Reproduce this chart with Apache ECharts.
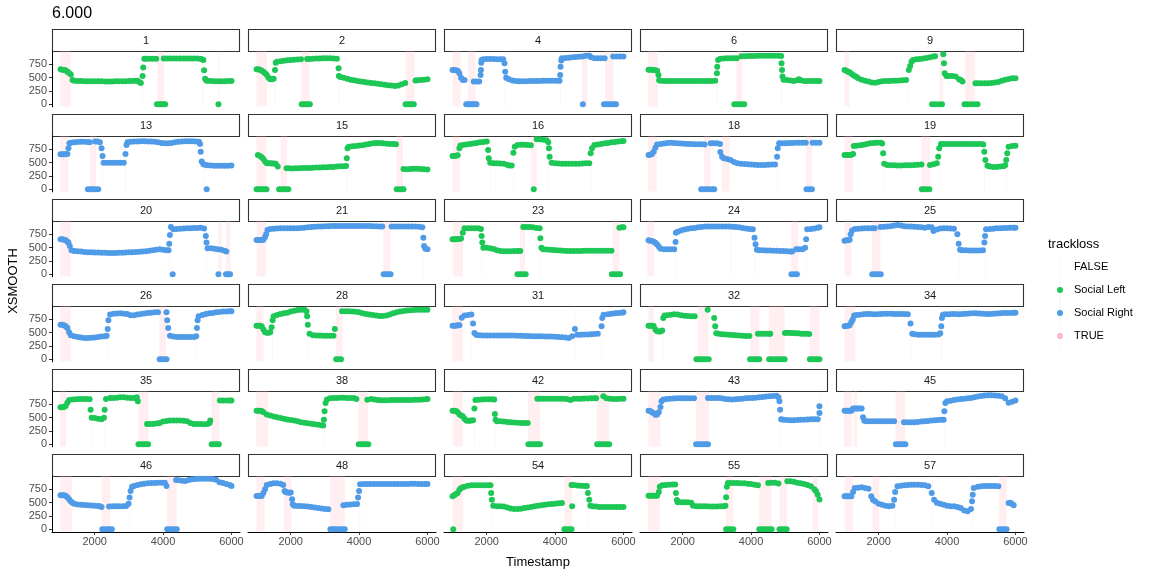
<!DOCTYPE html>
<html><head><meta charset="utf-8">
<script src="https://cdn.jsdelivr.net/npm/echarts@6/dist/echarts.min.js"></script>
<style>html,body{margin:0;padding:0;background:#fff}#c{width:1152px;height:576px}</style>
</head><body><div id="c"></div>
<script>
// ---------------- DATA ----------------
const PANEL_IDS = [1,2,4,6,9,13,15,16,18,19,20,21,23,24,25,26,28,31,32,34,35,38,42,43,45,46,48,54,55,57];
const SIDES = ['L','L','R','L','L','R','L','L','R','L','R','R','L','R','R','R','L','R','L','R','L','L','L','R','R','R','R','L','L','R'];
const X_TICKS = [2000, 4000, 6000];
const Y_TICKS = [0, 250, 500, 750];
const TITLE = '6.000';

// points: flat [Timestamp, XSMOOTH, Timestamp, XSMOOTH, ...]
const pts_1 = [1000,655,1050,650,1100,645,1150,640,1200,612,1250,585,1300,560,1350,455,1400,440,1500,437,1600,435,1700,433,1800,432,1900,432,2000,430,2100,430,2200,430,2300,428,2400,428,2500,428,2600,430,2700,430,2800,432,2900,433,3000,435,3100,437,3200,440,3250,440,3300,420,3350,400,3400,530,3420,690,3450,855,3500,856,3600,856,3700,856,3800,856,3820,0,3900,0,3950,0,4000,0,4060,0,4020,860,4100,860,4200,860,4300,860,4400,860,4500,860,4600,860,4700,860,4800,860,4900,860,5000,858,5100,850,5150,840,5180,830,5200,640,5230,480,5260,445,5300,440,5400,435,5500,430,5600,430,5620,0,5700,430,5800,432,5900,435,6000,437];
const pts_2 = [1000,656,1050,655,1100,650,1150,630,1200,610,1250,580,1300,550,1350,500,1400,470,1450,470,1500,480,1540,644,1560,780,1600,800,1700,805,1800,815,1900,825,2000,830,2100,835,2200,840,2300,845,2320,0,2380,0,2440,0,2500,0,2560,0,2480,850,2550,850,2650,855,2750,858,2850,860,2950,862,3050,862,3150,862,3250,860,3350,855,3400,675,3410,531,3450,510,3550,500,3650,480,3750,460,3850,450,3950,437,4050,425,4150,420,4250,410,4350,400,4450,394,4550,385,4650,375,4750,365,4850,356,4950,350,5050,345,5150,350,5250,375,5350,400,5360,0,5420,0,5480,0,5540,0,5600,0,5650,445,5700,450,5800,455,5900,462,6000,470];
const pts_4 = [1000,644,1050,644,1100,640,1150,630,1200,581,1250,500,1300,456,1350,456,1400,0,1450,0,1500,0,1550,0,1600,0,1650,0,1700,0,1620,425,1700,425,1780,425,1820,550,1830,644,1840,780,1850,831,1900,844,2000,850,2100,850,2200,848,2300,846,2400,844,2480,844,2520,769,2540,612,2570,500,2650,470,2750,445,2850,437,2950,432,3050,432,3150,434,3250,435,3350,436,3450,437,3550,438,3650,440,3750,440,3850,440,3950,440,4050,440,4130,440,4150,550,4160,706,4180,819,4200,862,4300,868,4400,875,4500,880,4600,885,4700,890,4800,894,4812,0,4900,910,5000,912,5050,880,5150,862,5250,862,5350,862,5450,862,5430,0,5500,0,5580,0,5650,0,5720,0,5780,0,5700,894,5800,894,5900,894,6000,894];
const pts_6 = [1000,650,1050,650,1100,648,1150,645,1200,640,1250,630,1290,550,1310,450,1350,440,1450,437,1550,437,1650,437,1750,437,1850,437,1950,437,2050,437,2150,437,2250,437,2350,437,2450,437,2550,437,2650,437,2750,437,2850,437,2950,440,3000,581,3010,706,3035,831,3100,856,3200,860,3300,862,3400,862,3500,865,3580,865,3510,0,3580,0,3650,0,3720,0,3800,0,3720,900,3800,902,3900,904,4000,906,4100,906,4200,908,4300,908,4400,910,4500,910,4600,912,4700,912,4800,910,4880,905,4890,769,4905,644,4920,519,4950,460,5050,456,5150,445,5250,437,5350,450,5400,469,5450,450,5550,437,5650,437,5750,437,5850,437,5950,435,6000,435];
const pts_9 = [1000,644,1050,630,1100,612,1150,600,1200,575,1250,550,1300,530,1350,510,1400,487,1500,460,1600,440,1700,425,1800,410,1900,406,2000,420,2100,430,2200,437,2300,437,2400,440,2500,440,2600,445,2700,450,2800,456,2880,644,2920,720,2960,800,3000,830,3100,844,3200,850,3300,860,3400,870,3500,881,3600,894,3650,900,3560,0,3650,0,3750,0,3850,0,3890,937,3910,769,3930,581,3980,531,4050,531,4150,531,4250,520,4350,470,4400,456,4450,425,4510,0,4600,0,4700,0,4800,0,4890,0,4830,394,4900,394,5000,394,5100,394,5200,394,5300,400,5400,410,5500,420,5600,440,5700,460,5800,475,5900,487,6000,490];
const pts_13 = [1000,656,1050,656,1100,656,1150,656,1200,660,1230,769,1260,862,1300,875,1400,880,1500,885,1600,890,1700,890,1800,885,1850,880,1800,0,1870,0,1940,0,2010,0,2100,0,2010,894,2080,894,2150,880,2200,769,2230,625,2260,500,2350,500,2450,500,2550,500,2650,500,2750,500,2850,500,2900,662,2930,831,2960,880,3050,890,3150,894,3250,897,3350,900,3450,900,3550,897,3650,894,3750,890,3850,880,3950,870,4050,862,4150,862,4250,870,4350,880,4450,890,4550,897,4650,900,4750,900,4850,900,4950,897,5050,890,5080,850,5100,706,5130,519,5180,470,5230,460,5275,0,5300,450,5400,445,5500,440,5600,440,5700,440,5800,440,5900,440,6000,444];
const pts_15 = [1000,0,1060,0,1120,0,1180,0,1240,0,1290,0,1040,644,1100,625,1150,600,1200,570,1250,520,1300,490,1350,487,1400,487,1450,485,1500,484,1560,480,1620,425,1660,0,1720,0,1790,0,1860,0,1930,0,1880,394,1950,394,2050,390,2150,394,2250,394,2350,397,2450,400,2550,400,2650,405,2750,410,2850,410,2950,412,3050,415,3150,418,3250,420,3350,425,3450,430,3550,431,3620,437,3640,581,3660,769,3700,800,3800,806,3900,812,4000,819,4100,825,4200,840,4300,850,4400,862,4500,866,4600,866,4700,862,4800,856,4900,850,5000,850,5080,845,5100,0,5170,0,5240,0,5300,0,5300,380,5400,375,5500,380,5600,385,5700,385,5800,380,5900,375,6000,370];
const pts_16 = [1000,625,1050,625,1100,630,1150,640,1200,769,1230,820,1300,831,1400,840,1500,850,1600,860,1700,870,1800,880,1900,887,2000,894,2040,737,2060,581,2100,500,2200,490,2300,487,2400,485,2500,480,2600,460,2650,444,2730,444,2780,687,2820,800,2900,831,3000,835,3100,835,3200,831,3290,825,3375,0,3460,937,3550,937,3650,930,3750,920,3800,880,3820,769,3840,612,3900,500,4000,487,4100,484,4200,481,4300,481,4400,481,4500,481,4600,481,4700,481,4800,484,4900,487,5000,487,5040,675,5080,769,5150,831,5250,840,5350,850,5450,862,5550,870,5650,880,5750,887,5850,894,5950,900,6000,905];
const pts_18 = [1000,644,1050,650,1100,660,1150,706,1200,780,1250,840,1350,850,1450,860,1550,870,1650,875,1750,870,1850,865,1950,860,2050,856,2150,850,2250,850,2350,845,2450,844,2550,844,2640,840,2540,0,2620,0,2700,0,2780,0,2860,0,2920,0,2820,862,2900,862,3000,862,3090,850,3100,700,3150,612,3200,581,3300,570,3400,550,3500,510,3600,487,3700,481,3800,475,3900,470,4000,465,4100,460,4200,456,4300,456,4400,456,4500,460,4600,465,4700,465,4760,612,4780,769,4820,862,4900,862,5000,865,5100,868,5200,870,5300,872,5400,875,5500,875,5600,875,5620,0,5700,0,5780,0,5800,875,5900,875,6000,875];
const pts_19 = [1000,644,1050,644,1100,644,1150,644,1200,650,1250,660,1270,812,1350,815,1450,825,1550,835,1650,850,1750,862,1850,870,1950,875,2050,875,2100,860,2130,675,2160,480,2250,456,2350,450,2450,450,2550,447,2650,447,2750,450,2850,450,2950,453,3050,456,3150,460,3250,465,3260,0,3330,0,3400,0,3480,0,3500,456,3600,470,3700,487,3740,612,3770,769,3820,850,3900,850,4000,850,4100,850,4200,850,4300,850,4400,850,4500,850,4600,850,4700,850,4800,850,4900,850,5000,850,5060,840,5090,706,5120,550,5180,440,5250,425,5350,420,5450,420,5550,425,5650,430,5700,450,5730,550,5760,675,5800,800,5900,812,6000,815];
const pts_20 = [1000,656,1050,656,1100,650,1150,640,1200,610,1230,594,1270,531,1320,450,1400,437,1500,430,1600,425,1700,419,1800,415,1900,412,2000,410,2100,408,2200,405,2300,402,2400,400,2500,400,2600,400,2700,402,2800,405,2900,408,3000,412,3100,415,3200,419,3300,422,3400,425,3500,430,3600,440,3700,450,3800,460,3900,469,4000,460,4100,450,4160,450,4180,575,4200,737,4230,887,4280,0,4300,844,4400,850,4500,856,4600,860,4700,862,4800,865,4900,868,5000,870,5100,875,5200,860,5250,719,5270,594,5300,487,5400,487,5500,480,5600,470,5620,0,5700,460,5800,440,5850,425,5840,0,5900,0,5960,0];
const pts_21 = [1000,644,1050,644,1100,644,1150,644,1200,650,1250,700,1280,750,1320,831,1400,850,1500,856,1600,860,1700,862,1800,862,1900,862,2000,862,2100,862,2200,865,2300,870,2400,875,2500,880,2600,885,2700,890,2800,894,2900,897,3000,900,3100,903,3200,906,3300,906,3400,906,3500,906,3600,906,3700,906,3800,906,3900,906,4000,906,4100,906,4200,906,4300,906,4400,903,4500,900,4600,897,4680,895,4720,0,4790,0,4860,0,4920,0,4950,894,5050,894,5150,894,5250,894,5350,894,5450,894,5550,894,5650,894,5750,890,5850,880,5880,687,5900,531,5940,480,6000,469];
const pts_23 = [1000,656,1050,656,1100,656,1150,660,1200,660,1250,670,1300,781,1350,862,1450,862,1550,862,1650,862,1750,862,1830,850,1850,719,1870,594,1900,500,2000,500,2100,490,2200,475,2300,450,2400,437,2500,430,2600,430,2700,433,2800,435,2900,437,2980,437,2900,0,2980,0,3060,0,3140,0,3070,887,3150,887,3250,887,3350,880,3450,870,3550,862,3570,675,3600,500,3650,469,3750,465,3850,460,3950,455,4050,450,4150,445,4250,440,4350,437,4450,437,4550,437,4650,437,4750,437,4850,440,4950,440,5050,440,5150,440,5250,440,5350,440,5450,440,5550,440,5650,440,5660,0,5740,0,5820,0,5900,0,5880,875,5950,880,6000,880];
const pts_24 = [1000,637,1050,630,1100,625,1150,612,1200,590,1250,560,1300,520,1350,480,1450,469,1550,469,1650,469,1750,469,1790,606,1800,780,1850,800,1950,820,2050,840,2150,855,2250,862,2350,870,2450,880,2550,887,2650,894,2750,894,2850,894,2950,894,3050,894,3150,894,3250,894,3350,894,3450,890,3550,887,3650,880,3750,870,3850,860,3950,850,4050,844,4100,687,4130,562,4170,460,4250,450,4350,450,4450,445,4550,445,4650,440,4750,440,4850,437,4950,435,5050,430,5150,425,5200,425,5180,0,5260,0,5340,0,5320,469,5400,469,5500,469,5580,500,5610,656,5640,844,5750,850,5850,860,5950,875,6000,880];
const pts_25 = [1000,630,1050,637,1100,640,1150,650,1180,750,1220,820,1300,850,1400,856,1500,860,1600,862,1700,862,1800,862,1880,862,1810,0,1900,0,1980,0,2060,0,2050,887,2150,890,2250,894,2350,900,2450,915,2550,925,2650,915,2750,900,2850,894,2950,894,3050,890,3150,887,3250,880,3350,875,3450,887,3550,880,3600,812,3700,840,3800,860,3900,862,4000,862,4100,860,4200,856,4300,750,4340,575,4380,460,4450,450,4550,450,4650,445,4750,445,4850,445,4950,445,5050,450,5090,594,5110,719,5140,844,5250,850,5350,856,5450,862,5550,862,5650,866,5750,870,5850,875,5950,875,6000,875];
const pts_26 = [1000,650,1050,650,1100,640,1150,620,1200,587,1250,506,1300,450,1400,431,1500,420,1600,410,1700,400,1800,400,1900,405,2000,410,2100,420,2200,425,2300,431,2350,440,2380,569,2400,731,2450,840,2550,856,2650,860,2750,862,2850,856,2950,850,3050,825,3150,825,3250,840,3350,850,3450,860,3550,870,3650,875,3750,880,3850,881,3900,0,3960,0,4030,0,4100,0,4100,881,4120,731,4150,587,4200,440,4300,425,4400,419,4500,419,4600,419,4700,419,4800,419,4900,419,4970,430,4990,587,5010,731,5040,806,5150,830,5250,850,5350,862,5450,870,5550,881,5650,887,5750,894,5850,897,5950,900,6000,900];
const pts_28 = [1000,631,1050,631,1100,631,1150,620,1200,560,1250,506,1300,500,1350,500,1400,506,1440,600,1470,731,1500,806,1600,830,1700,850,1800,862,1900,875,2000,894,2100,910,2200,925,2300,931,2400,931,2460,900,2480,806,2500,650,2550,480,2650,450,2750,444,2850,444,2950,440,3050,440,3150,440,3250,440,3290,569,3330,0,3400,0,3470,0,3500,900,3600,900,3700,900,3800,895,3900,890,4000,880,4100,862,4200,850,4300,840,4400,830,4500,820,4600,812,4700,812,4800,820,4900,840,5000,862,5100,880,5200,894,5300,906,5400,915,5500,920,5600,925,5700,928,5800,931,5900,931,6000,931];
const pts_31 = [1000,631,1050,631,1100,631,1150,640,1200,640,1270,780,1350,819,1450,830,1550,840,1600,669,1640,494,1700,456,1800,450,1900,447,2000,444,2100,444,2200,444,2300,444,2400,444,2500,444,2600,444,2700,444,2800,444,2900,440,3000,440,3100,437,3200,437,3300,434,3400,431,3500,431,3600,431,3700,428,3800,425,3900,425,4000,422,4100,420,4200,415,4300,410,4400,400,4500,430,4580,569,4650,462,4750,462,4850,465,4950,466,5050,470,5150,475,5250,480,5360,619,5380,775,5420,837,5550,845,5650,855,5750,862,5850,870,5950,875,6000,881];
const pts_32 = [1000,631,1050,631,1100,631,1150,625,1200,560,1250,525,1300,520,1350,520,1400,540,1430,775,1470,819,1550,825,1650,837,1750,845,1850,840,1950,825,2050,815,2150,810,2250,806,2350,806,2400,0,2470,0,2540,0,2610,0,2680,0,2760,0,2730,931,2920,775,2950,619,2980,490,3050,481,3150,470,3250,465,3350,460,3450,455,3550,450,3650,445,3750,440,3850,437,3950,437,3970,0,4040,0,4110,0,4180,0,4240,0,4200,481,4280,481,4360,481,4440,481,4520,481,4560,481,4530,0,4600,0,4680,0,4760,0,4840,0,4920,0,4980,0,4990,494,5060,500,5140,494,5220,494,5300,490,5380,487,5460,481,5540,481,5620,481,5700,475,5720,0,5790,0,5860,0,5930,0,6000,0];
const pts_34 = [1000,619,1050,625,1100,630,1150,640,1200,700,1240,744,1280,819,1350,830,1450,837,1550,845,1650,850,1750,850,1850,845,1950,845,2050,850,2150,856,2250,856,2350,856,2450,850,2550,850,2650,850,2750,850,2850,845,2930,669,2980,480,3050,470,3150,462,3250,460,3350,460,3450,460,3550,462,3650,462,3750,465,3800,490,3830,619,3850,775,3880,837,3950,845,4050,845,4150,850,4250,850,4350,845,4450,850,4550,856,4650,860,4750,862,4850,862,4950,860,5050,856,5150,850,5250,850,5350,856,5450,860,5550,862,5650,866,5750,870,5850,870,5950,875,6000,875];
const pts_35 = [1000,694,1050,694,1100,700,1150,720,1200,780,1250,830,1350,840,1450,845,1550,850,1650,850,1750,850,1850,845,1880,650,1910,500,2000,494,2100,481,2200,470,2270,500,2290,650,2330,850,2450,869,2550,869,2650,875,2750,880,2850,880,2950,875,3050,870,3150,869,3230,880,3260,806,3280,0,3350,0,3420,0,3490,0,3560,0,3530,381,3600,381,3700,381,3800,390,3900,400,4000,425,4100,437,4200,444,4300,444,4400,444,4500,444,4600,440,4700,431,4800,400,4900,381,5000,381,5100,381,5200,378,5300,381,5360,400,5380,444,5420,0,5490,0,5560,0,5630,0,5660,819,5750,819,5850,819,5950,819,6000,819];
const pts_38 = [1000,631,1050,631,1100,631,1150,625,1200,600,1300,560,1400,540,1500,520,1600,505,1700,494,1800,480,1900,465,2000,455,2100,444,2200,430,2300,415,2400,405,2500,394,2600,385,2700,375,2800,365,2900,356,2950,350,2970,462,2990,619,3020,775,3060,840,3150,862,3250,869,3350,869,3450,875,3550,875,3650,869,3750,869,3850,869,3920,850,3990,0,4060,0,4130,0,4200,0,4270,0,4240,837,4350,850,4450,840,4550,830,4650,825,4750,825,4850,825,4950,830,5050,830,5150,830,5250,830,5350,830,5450,830,5550,830,5650,835,5750,837,5850,840,5950,845,6000,850];
const pts_42 = [1000,631,1050,631,1100,625,1150,600,1200,560,1250,540,1300,525,1350,480,1400,444,1450,440,1500,440,1550,444,1600,450,1640,669,1670,830,1750,837,1850,840,1950,845,2050,845,2150,845,2220,840,2240,569,2260,462,2300,431,2400,430,2500,425,2600,420,2700,415,2800,410,2900,405,3000,400,3100,400,3200,400,3220,0,3290,0,3360,0,3430,0,3500,0,3560,0,3480,856,3560,856,3650,856,3750,856,3850,856,3950,856,4050,856,4150,856,4250,856,4350,850,4450,830,4550,856,4650,856,4750,856,4850,860,4950,860,5050,862,5150,862,5200,862,5230,0,5300,0,5370,0,5440,0,5510,0,5580,0,5410,900,5500,862,5600,856,5700,850,5800,850,5900,856,6000,856];
const pts_43 = [1000,631,1050,625,1100,600,1150,580,1200,556,1250,560,1300,600,1350,700,1380,806,1430,840,1530,850,1630,856,1730,860,1830,862,1930,862,2030,862,2130,862,2230,862,2330,862,2390,0,2460,0,2530,0,2600,0,2670,0,2740,0,2740,869,2840,869,2940,869,3040,866,3140,862,3240,850,3340,845,3440,840,3540,845,3640,850,3740,856,3840,862,3940,866,4040,869,4140,875,4240,880,4340,887,4440,894,4540,900,4640,906,4740,912,4800,880,4830,806,4850,650,4880,470,4950,462,5050,455,5150,450,5250,450,5350,455,5450,460,5550,462,5650,465,5750,470,5850,470,5950,470,6000,587,6000,712];
const pts_45 = [1000,631,1050,631,1100,631,1150,631,1200,631,1250,669,1300,669,1350,669,1400,669,1450,669,1500,669,1540,506,1580,440,1650,431,1750,431,1850,431,1950,431,2050,431,2150,431,2250,431,2350,431,2450,431,2500,0,2570,0,2640,0,2710,0,2780,0,2740,412,2840,412,2940,412,3040,415,3140,420,3240,425,3340,431,3440,437,3540,444,3640,450,3740,456,3840,462,3900,462,3920,619,3950,775,4000,806,4100,815,4200,830,4300,840,4400,850,4500,856,4600,862,4700,870,4800,880,4900,894,5000,906,5100,915,5200,919,5300,919,5400,915,5500,910,5600,900,5700,862,5800,780,5900,800,6000,819];
const pts_46 = [1000,637,1050,637,1100,637,1150,630,1200,600,1250,562,1300,520,1350,500,1400,480,1500,465,1600,460,1700,455,1800,450,1900,445,2000,440,2100,437,2150,430,2200,419,2220,0,2290,0,2360,0,2430,0,2500,0,2420,425,2520,430,2620,430,2720,430,2820,430,2920,437,2990,480,3020,594,3050,719,3090,800,3150,812,3250,830,3350,845,3450,856,3550,862,3650,866,3750,869,3850,872,3950,875,4050,875,4100,812,4120,0,4190,0,4260,0,4330,0,4400,0,4380,925,4450,919,4550,912,4650,906,4750,925,4850,937,4950,944,5050,950,5150,950,5250,950,5350,950,5450,944,5550,930,5650,880,5750,869,5850,850,5950,830,6000,810];
const pts_48 = [1000,625,1050,625,1100,625,1150,625,1200,680,1250,750,1300,830,1400,850,1500,862,1600,862,1700,855,1780,830,1820,719,1850,700,1900,690,1950,687,2000,690,2040,562,2060,469,2100,440,2200,437,2300,437,2400,430,2500,425,2600,420,2700,410,2800,400,2900,390,3000,380,3100,375,3160,0,3230,0,3300,0,3370,0,3440,0,3510,0,3580,0,3540,450,3640,460,3740,465,3840,469,3940,475,3970,594,4000,719,4030,844,4130,850,4230,850,4330,850,4430,850,4530,850,4630,850,4730,850,4830,850,4930,850,5030,850,5130,850,5230,850,5330,850,5430,850,5530,856,5630,856,5730,850,5830,850,5930,850,6000,850];
const pts_54 = [1020,0,1000,619,1050,640,1100,660,1150,681,1200,740,1250,775,1300,790,1350,800,1450,815,1550,825,1650,825,1750,825,1850,825,1950,825,2050,825,2110,825,2130,681,2150,556,2190,440,2300,431,2400,431,2500,425,2600,410,2700,390,2800,381,2900,381,3000,385,3100,400,3200,410,3300,420,3400,430,3500,440,3600,450,3700,460,3800,470,3900,475,4000,481,4100,487,4200,494,4270,0,4340,0,4410,0,4480,0,4500,431,4480,830,4550,830,4650,820,4750,815,4850,812,4930,812,4960,681,5000,556,5030,440,5100,431,5200,425,5300,419,5400,419,5500,419,5600,419,5700,419,5800,419,5900,419,6000,419];
const pts_55 = [1000,631,1050,631,1100,631,1150,631,1200,631,1250,631,1300,700,1330,800,1400,825,1500,830,1600,837,1700,840,1780,840,1800,681,1830,550,1850,506,1950,506,2050,506,2150,506,2250,500,2300,440,2400,431,2500,431,2600,431,2700,431,2800,425,2900,425,3000,425,3100,431,3200,431,3250,440,3270,600,3290,800,3320,869,3270,0,3340,0,3410,0,3480,0,3400,869,3500,869,3600,866,3700,862,3800,862,3900,856,4000,850,4100,837,4200,825,4240,0,4310,0,4380,0,4450,0,4520,0,4600,0,4500,869,4600,875,4700,875,4800,860,4830,0,4900,0,4970,0,5040,0,5060,900,5150,900,5250,890,5350,875,5450,862,5550,850,5650,830,5750,806,5850,750,5900,712,5950,650,6000,560];
const pts_57 = [1000,619,1050,619,1100,619,1150,619,1200,619,1250,700,1300,775,1400,780,1500,790,1600,775,1700,760,1780,619,1830,556,1900,520,2000,480,2100,460,2200,440,2300,431,2400,440,2450,556,2480,700,2550,806,2650,815,2750,825,2850,830,2950,837,3050,837,3150,837,3250,830,3350,825,3450,806,3550,681,3620,556,3700,500,3800,480,3900,460,4000,440,4100,431,4200,431,4300,420,4400,400,4500,350,4600,337,4700,380,4730,525,4750,650,4780,775,4900,800,5000,806,5100,812,5200,812,5300,812,5400,812,5500,806,5530,0,5600,0,5670,0,5740,0,5800,494,5850,500,5900,475,5950,450];

// trackloss (TRUE) spans: flat [start, end, start, end, ...]
const band_1 = [990,1300,3830,4030,3390,3410,5140,5160,5610,5630];
const band_2 = [995,1305,2310,2550,5365,5625,1530,1550,3400,3420];
const band_4 = [1000,1245,1445,1670,4790,4945,5460,5710,2520,2540,4140,4160];
const band_6 = [990,1275,3570,3740,2990,3010,4880,4900];
const band_9 = [1000,1140,3780,3890,4530,4820,2850,2870];
const band_13 = [985,1230,1860,2040,2200,2220,2890,2910,5180,5200];
const band_15 = [995,1285,1705,1890,5090,5285,3630,3650];
const band_16 = [1000,1210,3300,3465,2100,2120,2770,2790,3800,3820,5040,5060];
const band_18 = [990,1240,2620,2810,3150,3370,5610,5780,4760,4780];
const band_19 = [1000,1255,3250,3500,2130,2150,3780,3800,5080,5100,5720,5740];
const band_20 = [990,1300,5615,5710,5840,5975,4190,4210,5250,5270];
const band_21 = [1000,1280,4705,4920,5860,5880];
const band_23 = [1010,1305,2975,3120,5685,5880,1840,1860,3550,3570];
const band_24 = [965,1160,5175,5370,1780,1800,3400,3420,4100,4120,5600,5620];
const band_25 = [1005,1200,1805,2050,4330,4350,5110,5130];
const band_26 = [990,1300,3890,4085,2370,2390,4970,4990];
const band_28 = [990,1200,3320,3515,1450,1470,2480,2500];
const band_31 = [990,1300,1520,1540,4580,4600,5360,5380];
const band_32 = [995,1160,2435,2755,3980,4245,4520,4980,5715,6000,1420,1440,2940,2960];
const band_34 = [1005,1315,2930,2950,3830,3850];
const band_35 = [990,1160,3275,3570,5420,5645,1890,1910,2290,2310];
const band_38 = [990,1340,3975,4265,2980,3000];
const band_42 = [1010,1300,3210,3560,5220,5580,1630,1650,2250,2270];
const band_43 = [995,1355,2385,2775,4840,4860,5985,6000];
const band_45 = [975,1220,1270,1370,2490,2780,3920,3940];
const band_46 = [990,1330,2205,2450,4110,4400,3020,3040];
const band_48 = [1000,1240,1795,2020,3145,3585,4010,4030];
const band_54 = [1000,1310,4275,4495,2130,2150,4950,4970];
const band_55 = [985,1330,3260,3480,4235,4600,4830,5050,5800,5960];
const band_57 = [1010,1255,1815,2015,5520,5745,2450,2470,3560,3580,4730,4750];

// ---------------- BUILD ----------------
const PTS = {1:pts_1,2:pts_2,4:pts_4,6:pts_6,9:pts_9,13:pts_13,15:pts_15,16:pts_16,18:pts_18,19:pts_19,20:pts_20,21:pts_21,23:pts_23,24:pts_24,25:pts_25,26:pts_26,28:pts_28,31:pts_31,32:pts_32,34:pts_34,35:pts_35,38:pts_38,42:pts_42,43:pts_43,45:pts_45,46:pts_46,48:pts_48,54:pts_54,55:pts_55,57:pts_57};
const BANDS = {1:band_1,2:band_2,4:band_4,6:band_6,9:band_9,13:band_13,15:band_15,16:band_16,18:band_18,19:band_19,20:band_20,21:band_21,23:band_23,24:band_24,25:band_25,26:band_26,28:band_28,31:band_31,32:band_32,34:band_34,35:band_35,38:band_38,42:band_42,43:band_43,45:band_45,46:band_46,48:band_48,54:band_54,55:band_55,57:band_57};
function pairs(a){const o=[];for(let i=0;i+1<a.length;i+=2)o.push([a[i],a[i+1]]);return o;}

const FONT = '"Liberation Sans", Arial, Helvetica, sans-serif';
const GREEN = '#1dc756', BLUE = '#4f9be8', PINK = '#ffb6c1';
const COL_LEFT = [52,248,444,640,836], PW = 188;
const ROW0 = 50.8, RSTEP = 85, PH = 56.05;
const X_MIN = 750, X_MAX = 6250, Y_MIN = -48, Y_MAX = 1003;

const grids=[], xAxes=[], yAxes=[], series=[], graphics=[];
PANEL_IDS.forEach((id, i) => {
  const r = Math.floor(i/5), c = i%5;
  const left = COL_LEFT[c], top = ROW0 + RSTEP*r;
  grids.push({left:left, top:top, width:PW, height:PH});
  const bottom = (r===5), first = (c===0);
  xAxes.push({type:'value', gridIndex:i, min:X_MIN, max:X_MAX,
    axisLine:{show:bottom, onZero:false, lineStyle:{color:'#000', width:1}},
    axisTick:{show:bottom, customValues:X_TICKS, length:3, lineStyle:{color:'#333', width:1}},
    axisLabel:{show:bottom, customValues:X_TICKS, color:'#4d4d4d', fontSize:11, fontFamily:FONT, margin:5,
      formatter:function(v){return String(v);}},
    splitLine:{show:false}});
  yAxes.push({type:'value', gridIndex:i, min:Y_MIN, max:Y_MAX,
    axisLine:{show:first, onZero:false, lineStyle:{color:'#000', width:1}},
    axisTick:{show:first, customValues:Y_TICKS, length:3, lineStyle:{color:'#333', width:1}},
    axisLabel:{show:first, customValues:Y_TICKS, color:'#4d4d4d', fontSize:11, fontFamily:FONT, margin:5,
      formatter:function(v){return String(v);}},
    splitLine:{show:false}});
  series.push({type:'custom', name:'TRUE', xAxisIndex:i, yAxisIndex:i, silent:true, z:1,
    data: pairs(BANDS[id]), encode:{x:[0,1]}, clip:true,
    renderItem:function(params, api){
      const cs = params.coordSys;
      const x0 = api.coord([api.value(0), 0])[0];
      const x1 = api.coord([api.value(1), 0])[0];
      const w = Math.max(1, x1 - x0);
      return {type:'rect', shape:{x:x0, y:cs.y, width:w, height:cs.height},
        style:{fill: (x1-x0) < 2 ? 'rgba(255,182,193,0.14)' : 'rgba(255,182,193,0.22)'}};
    }});
  const side = SIDES[i];
  series.push({type:'scatter', name: side==='L' ? 'Social Left' : 'Social Right',
    xAxisIndex:i, yAxisIndex:i, silent:true, z:3, symbolSize:6,
    itemStyle:{color: side==='L' ? GREEN : BLUE, opacity:1},
    data: pairs(PTS[id])});
  // facet strip
  const sTop = 29.5 + RSTEP*r;
  graphics.push({type:'rect', silent:true, shape:{x:left+0.5, y:sTop, width:PW-1, height:22},
    style:{fill:'#fff', stroke:'#333', lineWidth:1.1}});
  graphics.push({type:'text', silent:true, x:left+PW/2, y:sTop+11,
    style:{text:String(id), fill:'#1a1a1a', font:'11px '+FONT, textAlign:'center', textVerticalAlign:'middle', align:'center', verticalAlign:'middle'}});
});

// titles
graphics.push({type:'text', silent:true, x:52, y:14, style:{text:TITLE, fill:'#000', font:'16px '+FONT, textAlign:'left', textVerticalAlign:'middle', align:'left', verticalAlign:'middle'}});
graphics.push({type:'text', silent:true, x:538, y:562, style:{text:'Timestamp', fill:'#000', font:'13px '+FONT, textAlign:'center', textVerticalAlign:'middle', align:'center', verticalAlign:'middle'}});
graphics.push({type:'text', silent:true, x:13, y:281, rotation:Math.PI/2, style:{text:'XSMOOTH', fill:'#000', font:'13px '+FONT, textAlign:'center', textVerticalAlign:'middle', align:'center', verticalAlign:'middle'}});

// legend
const LEG = [['FALSE', null, 'rgba(220,240,230,0.35)'], ['Social Left', GREEN, 'rgba(29,199,86,0.10)'], ['Social Right', BLUE, 'rgba(79,155,232,0.10)'], ['TRUE', PINK, 'rgba(255,182,193,0.18)']];
graphics.push({type:'text', silent:true, x:1048, y:244, style:{text:'trackloss', fill:'#000', font:'13px '+FONT, textAlign:'left', textVerticalAlign:'middle', align:'left', verticalAlign:'middle'}});
LEG.forEach((it, k) => {
  const cy = 267 + 23*k;
  graphics.push({type:'line', silent:true, shape:{x1:1060, y1:cy-11, x2:1060, y2:cy+11}, style:{stroke:it[2], lineWidth:1}});
  if (it[1]) graphics.push({type:'circle', silent:true, shape:{cx:1060, cy:cy, r:3}, style:{fill:it[1]}});
  graphics.push({type:'text', silent:true, x:1074, y:cy, style:{text:it[0], fill:'#000', font:'11px '+FONT, textAlign:'left', textVerticalAlign:'middle', align:'left', verticalAlign:'middle'}});
});

const chart = echarts.init(document.getElementById('c'), null, {renderer:'canvas'});
chart.setOption({
  animation:false,
  backgroundColor:'#fff',
  grid:grids, xAxis:xAxes, yAxis:yAxes, series:series, graphic:graphics
});
</script>
</body></html>
